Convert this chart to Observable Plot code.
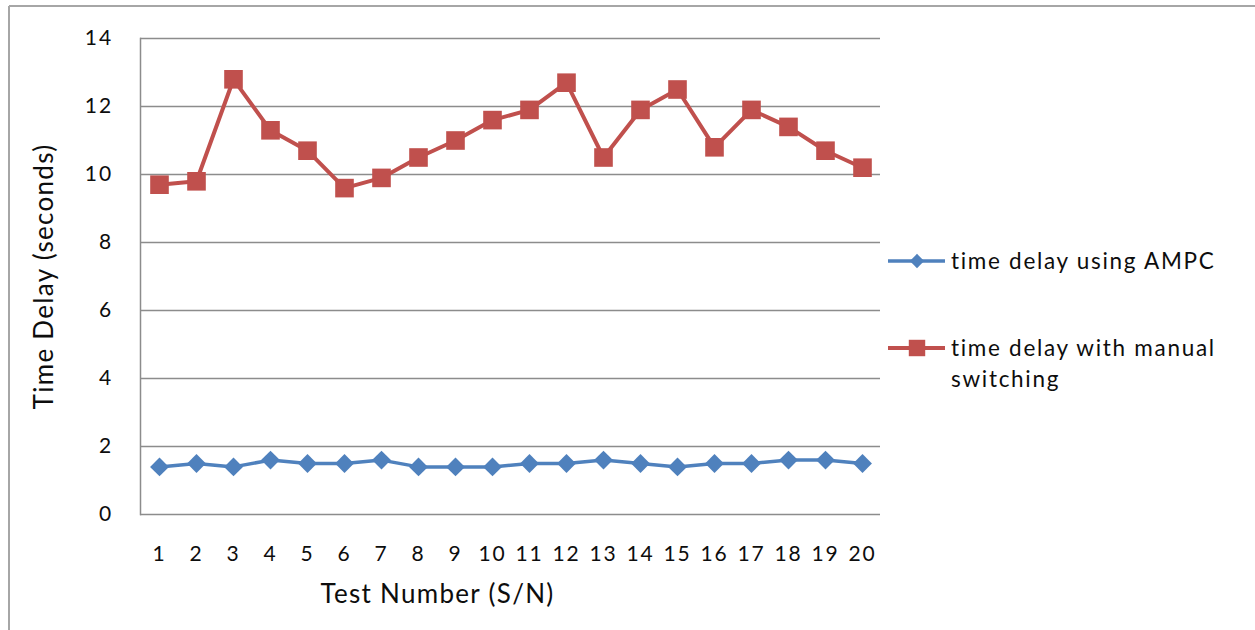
<!DOCTYPE html>
<html>
<head>
<meta charset="utf-8">
<script src="https://cdn.jsdelivr.net/npm/d3@7"></script>
<script src="https://cdn.jsdelivr.net/npm/@observablehq/plot@0.6"></script>
<style>
  html, body { margin: 0; padding: 0; background: #fff; }
  #chart { position: relative; width: 1255px; height: 630px; }
  g[aria-label="y-axis tick label"] { font-size: 21px !important; letter-spacing: 2.2px; }
  g[aria-label="x-axis tick label"] { font-size: 21px !important; letter-spacing: 1.8px; }
</style>
</head>
<body>
<div id="chart"></div>
<script>
const testNumbers = [1,2,3,4,5,6,7,8,9,10,11,12,13,14,15,16,17,18,19,20];
const ampcDelay = [1.4,1.5,1.4,1.6,1.5,1.5,1.6,1.4,1.4,1.4,1.5,1.5,1.6,1.5,1.4,1.5,1.5,1.6,1.6,1.5];
const manualDelay = [9.7,9.8,12.8,11.3,10.7,9.6,9.9,10.5,11.0,11.6,11.9,12.7,10.5,11.9,12.5,10.8,11.9,11.4,10.7,10.2];
const yTicks = [0,2,4,6,8,10,12,14];
const seriesNames = ["time delay using AMPC", "time delay with manual switching"];
const seriesColors = ["#4F81BD", "#C0504D"];

const ampcData = testNumbers.map((t, i) => ({test: t, value: ampcDelay[i]}));
const manualData = testNumbers.map((t, i) => ({test: t, value: manualDelay[i]}));

const font = "Lato, 'Open Sans', sans-serif";

const plot = Plot.plot({
  width: 1255,
  height: 630,
  marginLeft: 140,
  marginRight: 375,
  marginTop: 38,
  marginBottom: 116,
  style: {fontFamily: font, fontSize: "21px", color: "#0d0d0d", background: "#fff", letterSpacing: "1.3px"},
  x: {type: "point", domain: testNumbers, padding: 0.5},
  y: {domain: [0, 14], ticks: yTicks},
  marks: [
    Plot.gridY(yTicks, {stroke: "#8c8c8c", strokeOpacity: 1, strokeWidth: 1.5}),
    Plot.frame({anchor: "left", stroke: "#8c8c8c", strokeWidth: 1.5}),
    Plot.axisY({ticks: yTicks, tickSize: 0, tickPadding: 27, fontSize: 21, label: null}),
    Plot.axisX({tickSize: 0, tickPadding: 32, fontSize: 21, label: null}),
    Plot.text(["Test Number (S/N)"], {frameAnchor: "bottom", textAnchor: "middle", dy: 88, dx: -73, fontSize: 26, fill: "#0d0d0d"}),
    Plot.text(["Time Delay (seconds)"], {frameAnchor: "left", textAnchor: "middle", dx: -96, rotate: -90, fontSize: 26, fill: "#0d0d0d"}),
    Plot.line(manualData, {x: "test", y: "value", stroke: seriesColors[1], strokeWidth: 4}),
    Plot.dot(manualData, {x: "test", y: "value", symbol: "square", r: 10.5, fill: seriesColors[1], stroke: "none"}),
    Plot.line(ampcData, {x: "test", y: "value", stroke: seriesColors[0], strokeWidth: 3.5}),
    Plot.dot(ampcData, {x: "test", y: "value", symbol: "diamond2", r: 8.5, fill: seriesColors[0], stroke: "none"})
  ]
});

document.getElementById("chart").appendChild(plot);

const svg = d3.select(plot);
// enforce tick label size on axis groups
svg.selectAll('g[aria-label="y-axis tick label"]').style("font-size", "21px").style("letter-spacing", "2.2px");
svg.selectAll('g[aria-label="x-axis tick label"]').style("font-size", "21px").style("letter-spacing", "1.8px");

// outer chart border (top and left edges visible in reference)
svg.append("line").attr("x1", 9).attr("x2", 1255).attr("y1", 6).attr("y2", 6)
  .attr("stroke", "#a6a6a6").attr("stroke-width", 2);
svg.append("line").attr("x1", 9).attr("x2", 9).attr("y1", 6).attr("y2", 630)
  .attr("stroke", "#a6a6a6").attr("stroke-width", 2);

// legend
const legend = svg.append("g")
  .attr("font-family", font).attr("font-size", 22.5).attr("fill", "#0d0d0d")
  .attr("text-anchor", "start").style("letter-spacing", "1.7px");
const entries = [
  {y: 261, lines: [seriesNames[0]], symbol: d3.symbolDiamond2, size: 130},
  {y: 348, lines: ["time delay with manual", "switching"], symbol: d3.symbolSquare, size: 270}
];
entries.forEach((e, i) => {
  const g = legend.append("g");
  g.append("line").attr("x1", 888).attr("x2", 945).attr("y1", e.y).attr("y2", e.y)
    .attr("stroke", seriesColors[i]).attr("stroke-width", i === 0 ? 3.5 : 4);
  g.append("path").attr("d", d3.symbol(e.symbol, e.size)())
    .attr("transform", `translate(917,${e.y})`).attr("fill", seriesColors[i]).attr("stroke", "none");
  e.lines.forEach((ln, j) => {
    g.append("text").attr("x", 951).attr("y", e.y + j * 31).attr("dy", "0.35em").text(ln);
  });
});
</script>
</body>
</html>
